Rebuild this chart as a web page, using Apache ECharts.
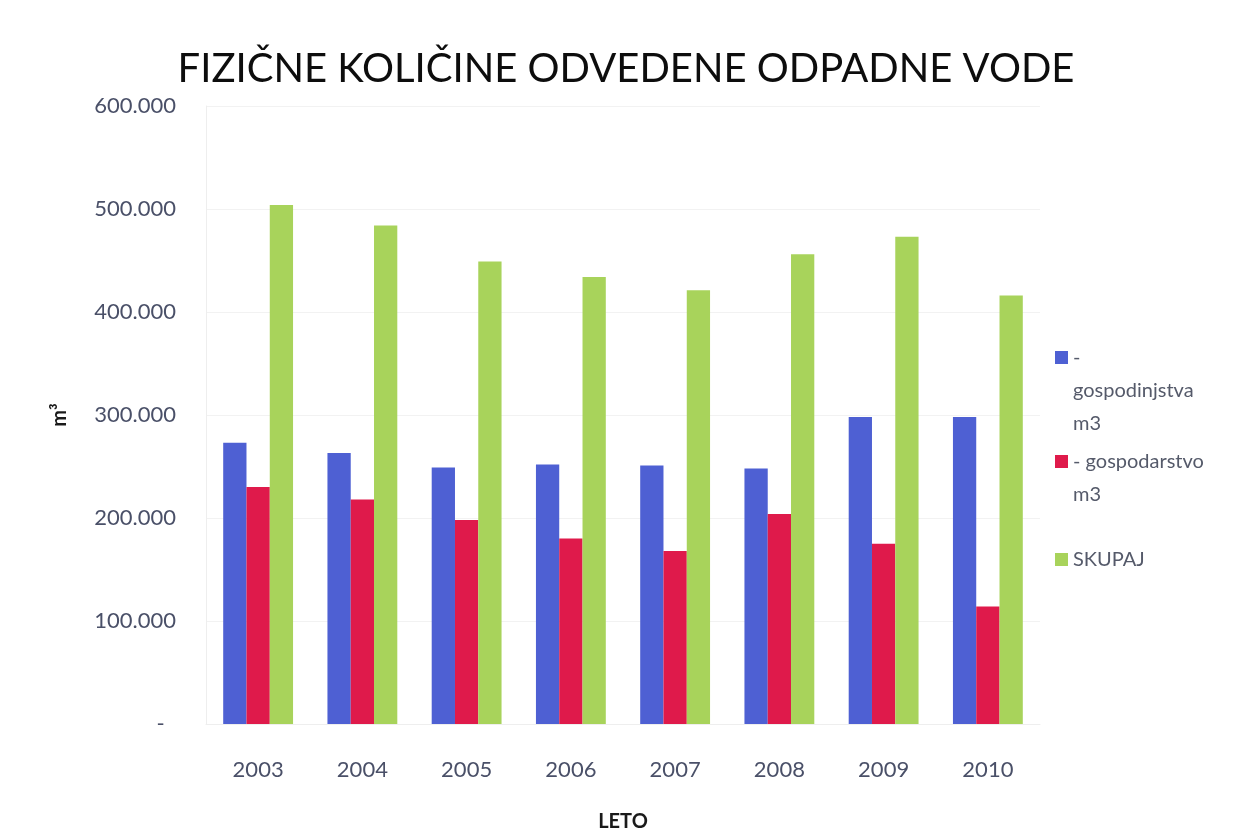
<!DOCTYPE html>
<html>
<head>
<meta charset="utf-8">
<script src="https://cdn.jsdelivr.net/npm/echarts@6/dist/echarts.min.js"></script>
<style>
html,body{margin:0;padding:0;background:#fff;}
#chart{width:1252px;height:840px;}
</style>
</head>
<body>
<div id="chart"></div>
<script>
const title = 'FIZIČNE KOLIČINE ODVEDENE ODPADNE VODE';
const years = ['2003','2004','2005','2006','2007','2008','2009','2010'];
const seriesNames = ['- gospodinjstva m3', '- gospodarstvo m3', 'SKUPAJ'];
const legendLabels = ['\n\n-\ngospodinjstva\nm3', '\n- gospodarstvo\nm3', 'SKUPAJ'];
const gospodinjstva = [273000, 263000, 249000, 252000, 251000, 248000, 298000, 298000];
const gospodarstvo = [230000, 218000, 198000, 180000, 168000, 204000, 175000, 114000];
const skupaj = [504000, 484000, 449000, 434000, 421000, 456000, 473000, 416000];
const yTicks = [0, 100000, 200000, 300000, 400000, 500000, 600000];
const colors = ['#4e60d3', '#df1a4b', '#a8d35b'];

function fmt(v){
  if (v === 0) return '-  ';
  const s = String(Math.round(v));
  return s.replace(/\B(?=(\d{3})+(?!\d))/g, '.');
}

const chart = echarts.init(document.getElementById('chart'), null, {renderer:'canvas'});
const font = 'Lato, "Open Sans", sans-serif';
const legendTops = [275, 412, 543];
const option = {
  backgroundColor: '#ffffff',
  animation: false,
  color: colors,
  title: {
    text: title,
    left: 'center',
    top: 44,
    textStyle: {fontFamily: font, fontSize: 40, fontWeight: 'normal', color: '#0d0d0d'}
  },
  legend: seriesNames.map((n, i) => ({
    data: [n],
    orient: 'vertical',
    left: 1055,
    top: legendTops[i],
    padding: 0,
    icon: 'rect',
    itemWidth: 13,
    itemHeight: 13,
    formatter: () => legendLabels[i],
    textStyle: {fontFamily: font, fontSize: 20, color: '#555a6a', lineHeight: 33}
  })),
  grid: {left: 206, right: 212, top: 106, bottom: 116},
  xAxis: {
    type: 'category',
    data: years,
    name: 'LETO',
    nameLocation: 'middle',
    nameGap: 88,
    nameTextStyle: {fontFamily: font, fontSize: 20, fontWeight: 'bold', color: '#1a1a1a'},
    axisLine: {show: true, lineStyle: {color: '#eeeeee'}},
    axisTick: {show: false},
    axisLabel: {fontFamily: font, fontSize: 22, color: '#4a5068', margin: 35}
  },
  yAxis: {
    type: 'value',
    min: 0,
    max: 600000,
    interval: 100000,
    name: 'm³',
    nameLocation: 'middle',
    nameRotate: 90,
    nameGap: 136,
    nameTextStyle: {fontFamily: font, fontSize: 20, fontWeight: 'bold', color: '#1a1a1a'},
    axisLine: {show: true, lineStyle: {color: '#eeeeee'}},
    axisTick: {show: false},
    splitLine: {show: true, lineStyle: {color: '#f2f2f2'}},
    axisLabel: {fontFamily: font, fontSize: 22, color: '#4a5068', margin: 30, formatter: fmt}
  },
  series: [
    {name: seriesNames[0], type: 'bar', data: gospodinjstva, barGap: '0%', barCategoryGap: '33%'},
    {name: seriesNames[1], type: 'bar', data: gospodarstvo, barGap: '0%', barCategoryGap: '33%'},
    {name: seriesNames[2], type: 'bar', data: skupaj, barGap: '0%', barCategoryGap: '33%'}
  ]
};
chart.setOption(option);
</script>
</body>
</html>
